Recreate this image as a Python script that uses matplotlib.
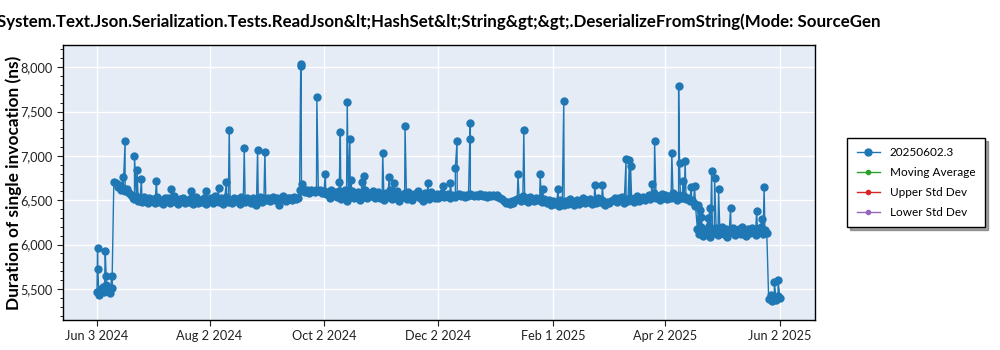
import matplotlib
matplotlib.use("Agg")
import matplotlib.pyplot as plt
import matplotlib.dates as mdates
from matplotlib.ticker import MultipleLocator, FuncFormatter
import pandas as pd

plt.rcParams['font.family'] = ['Lato', 'DejaVu Sans']

title = "System.Text.Json.Serialization.Tests.ReadJson&lt;HashSet&lt;String&gt;&gt;.DeserializeFromString(Mode: SourceGen"
series_name = "20250602.3"
other_series = ["Moving Average", "Upper Std Dev", "Lower Std Dev"]
start_date = "2024-06-03"

# one value per day, starting 2024-06-03
daily_values = [
    5470, 5430, 5500, 5520, 5460, 5540, 5490, 5450, 5510,
    6710, 6690, 6650, 6670, 6620, 6640, 6600, 6630, 6580,
    6560, 6530, 6510, 6550, 6490, 6520, 6480, 6540, 6500, 6470, 6530, 6490,
    6510, 6470, 6540, 6480, 6500, 6460, 6530, 6490, 6520, 6470,
    6500, 6550, 6480, 6460, 6510, 6490, 6530, 6470, 6500, 6480,
    6520, 6460, 6490, 6540, 6470, 6500, 6480, 6520, 6460, 6510,
    6490, 6530, 6470, 6550, 6500, 6480, 6520, 6460, 6510, 6540,
    6480, 6500, 6470, 6530, 6490, 6510, 6460, 6540, 6500, 6480,
    6520, 6490, 6470, 6530, 6510, 6450, 6500, 6540, 6480, 6520,
    6500, 6530, 6490, 6510, 6540, 6500, 6520, 6450, 6530, 6550,
    6510, 6490, 6530, 6520, 6500, 6540, 6510, 6530,
    6620, 6600, 6630, 6590, 6610, 6580, 6620, 6600, 6590, 6610,
    6600, 6620, 6580, 6600, 6570, 6590, 6530, 6620, 6560, 6590,
    6540, 6600, 6510, 6580, 6620, 6490, 6570, 6540, 6600, 6520,
    6560, 6590, 6500, 6570, 6540, 6610, 6520, 6580, 6550, 6600,
    6530, 6570,
    6590, 6520, 6560, 6500, 6580, 6540, 6610, 6510, 6570, 6530,
    6600, 6490, 6560, 6540, 6580, 6510, 6590, 6530, 6500, 6570,
    6550, 6600, 6520, 6560, 6490, 6580, 6540, 6510, 6590, 6550,
    6530, 6570, 6520, 6560, 6580, 6540, 6550, 6570, 6530, 6560,
    6550, 6540, 6560, 6570, 6550, 6560, 6540, 6560, 6550, 6570,
    6560, 6550, 6560, 6545, 6565, 6555, 6550, 6560, 6540, 6555,
    6550, 6560, 6545, 6555, 6540, 6530,
    6510, 6490, 6470, 6480, 6460, 6490, 6470, 6500, 6510,
    6530, 6490, 6550, 6500, 6520, 6480, 6540, 6510, 6490, 6530,
    6500, 6520, 6480, 6510, 6490,
    6470, 6500, 6450, 6490, 6460, 6480, 6440, 6500, 6470, 6450,
    6490, 6460, 6510, 6480, 6450, 6470, 6500, 6460, 6490, 6520,
    6470, 6500, 6480, 6510, 6460, 6490, 6470, 6520, 6480, 6500,
    6460, 6450, 6480, 6470, 6490, 6500,
    6520, 6480, 6530, 6500, 6540, 6470, 6510, 6490, 6530, 6500,
    6480, 6520, 6550, 6490, 6510, 6540, 6500, 6530, 6560, 6510,
    6540, 6580, 6520, 6550, 6500, 6570, 6530, 6560, 6510, 6550,
    6520, 6580, 6540, 6500, 6560, 6530, 6520, 6550, 6510, 6530,
    6490, 6500, 6470, 6440,
    6180, 6120, 6200, 6100, 6160, 6140, 6210, 6090, 6170, 6130,
    6190, 6110, 6150, 6200, 6120, 6170, 6090, 6160, 6140, 6190,
    6110, 6150, 6180, 6120, 6200, 6140, 6100, 6170, 6130, 6190,
    6150, 6110, 6180, 6140, 6200, 6120, 6160, 6130,
    5390, 5430, 5360, 5410, 5380, 5420, 5400,
]

# extra (outlier) runs: days since start_date, value
spike_days = [
    0.3, 0.5, 4.4, 4.9, 7.9, 13.8, 15.0, 20.0, 21.4, 23.7, 31.7, 39.7, 49.9, 58.0,
    64.8, 69.0, 70.5, 78.5, 85.6, 89.5, 108.6, 108.8, 109.5,
    117.2, 121.7, 129.2, 129.7, 133.4, 134.8, 135.2, 141.0, 142.5,
    152.3, 155.8, 158.5, 164.2, 176.3, 184.3, 188.4, 191.0, 191.9, 198.7, 199.0, 224.4,
    227.5, 236.2, 237.6, 245.8, 248.8, 265.3, 269.4, 282.0, 283.8, 284.4, 295.9, 297.2,
    306.4, 310.0, 310.5, 312.3, 313.5, 316.7, 318.5,
    320.6, 321.3, 322.1, 325.6, 326.5, 327.6, 329.2, 331.3, 337.7, 351.6, 354.2, 355.6,
    361.0, 363.0,
]
spike_values = [
    5960, 5730, 5930, 5650, 5650, 6760, 7165, 7000, 6842, 6740, 6720, 6630, 6600, 6600,
    6635, 6703, 7290, 7086, 7071, 7049, 8030, 8010, 6684,
    7669, 6800, 6710, 7274, 7605, 7192, 6729, 6710, 6778,
    7037, 6767, 6690, 7338, 6690, 6665, 6690, 6861, 7162, 7188, 7376, 6793,
    7286, 6793, 6628, 6624, 7613, 6673, 6669, 6962, 6955, 6891, 6680, 7169,
    7037, 7782, 6917, 6718, 6943, 6654, 6665,
    6447, 6390, 6316, 6297, 6410, 6834, 6755, 6628, 6410, 6383, 6285, 6646,
    5582, 5601,
]

x_tick_dates = ["2024-06-03", "2024-08-02", "2024-10-02", "2024-12-02",
                "2025-02-01", "2025-04-02", "2025-06-02"]

# ---- build series ----
t0 = pd.Timestamp(start_date)
base = pd.DataFrame({
    "t": [t0 + pd.Timedelta(days=i) for i in range(len(daily_values))],
    "v": daily_values,
})
spk = pd.DataFrame({
    "t": [t0 + pd.Timedelta(days=d) for d in spike_days],
    "v": spike_values,
})
df = pd.concat([base, spk]).sort_values("t")

fig = plt.figure(figsize=(10, 3.5), dpi=100)
fig.subplots_adjust(left=0.063, right=0.815, top=0.871, bottom=0.086)
ax = fig.add_subplot(111)
ax.set_facecolor("#E5ECF6")

blue = "#1f77b4"
ax.plot(df["t"], df["v"], "-o", color=blue, lw=1.0, ms=5.0, label=series_name, zorder=3)
for name, c in zip(other_series, ["#2ca02c", "#d62728", "#9467bd"]):
    ax.plot([], [], "-o", color=c, lw=1.0, ms=3, label=name)

ax.set_xlim(t0 - pd.Timedelta(days=18.1), t0 + pd.Timedelta(days=382.7))
ax.set_ylim(5151, 8248)

ax.set_xticks([pd.Timestamp(d) for d in x_tick_dates])
ax.xaxis.set_major_formatter(mdates.DateFormatter("%b %-d %Y"))
ax.yaxis.set_major_locator(MultipleLocator(500))
ax.yaxis.set_minor_locator(MultipleLocator(100))
ax.yaxis.set_major_formatter(FuncFormatter(lambda v, p: f"{int(v):,}"))
ax.tick_params(axis="both", labelsize=9.2, colors="#222222", length=4)
ax.tick_params(axis="y", which="minor", length=2)

ax.grid(True, color="white", lw=1.0)
ax.set_axisbelow(True)
for s in ax.spines.values():
    s.set_color("black")
    s.set_linewidth(1.0)

ax.set_title(title, fontsize=12.2, fontweight="bold", pad=13)
ax.set_ylabel("Duration of single invocation (ns)", fontsize=12.4, fontweight="bold")
ax.yaxis.set_label_coords(-0.0545, 0.5)

leg = ax.legend(loc="center left", bbox_to_anchor=(1.035, 0.5), fontsize=8.5,
                frameon=True, fancybox=False, shadow=True, edgecolor="black",
                borderpad=0.8, labelspacing=0.75, handlelength=2.0)
leg.get_frame().set_linewidth(1.0)

fig.savefig("out.png", dpi=100)
